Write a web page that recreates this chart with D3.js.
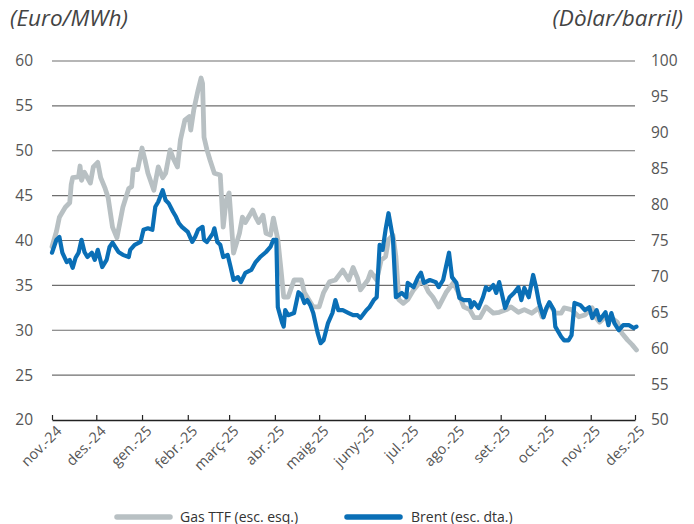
<!DOCTYPE html>
<html><head><meta charset="utf-8">
<script src="https://cdn.jsdelivr.net/npm/d3@7"></script>
<style>body{margin:0;background:#fff}svg{display:block}</style>
</head><body>
<svg id="c" width="694" height="524"></svg>
<script>
const monthLabels = ["nov.-24","des.-24","gen.-25","febr.-25","març-25","abr.-25","maig-25","juny-25","jul.-25","ago.-25","set.-25","oct.-25","nov.-25","des.-25"];
const leftTicks = [20,25,30,35,40,45,50,55,60];
const rightTicks = [50,55,60,65,70,75,80,85,90,95,100];
const seriesNames = ["Gas TTF (esc. esq.)","Brent (esc. dta.)"];

const gasTTF = [
["2024-11-01",39.3],["2024-11-04",41.0],["2024-11-06",42.6],["2024-11-10",43.7],["2024-11-13",44.2],["2024-11-14",46.2],["2024-11-15",47.0],["2024-11-19",47.1],["2024-11-20",48.3],["2024-11-21",46.7],["2024-11-23",47.6],["2024-11-27",46.4],["2024-11-29",48.2],
["2024-12-02",48.7],["2024-12-04",47.0],["2024-12-07",45.8],["2024-12-09",44.8],["2024-12-12",41.5],["2024-12-15",40.3],["2024-12-17",42.0],["2024-12-19",43.7],["2024-12-23",45.8],["2024-12-25",46.0],["2024-12-26",47.9],["2024-12-29",47.9],
["2025-01-01",50.3],["2025-01-03",49.0],["2025-01-05",47.5],["2025-01-09",45.6],["2025-01-12",48.2],["2025-01-15",47.0],["2025-01-17",47.5],["2025-01-20",50.1],["2025-01-22",49.2],["2025-01-25",48.2],["2025-01-27",51.2],["2025-01-30",53.4],
["2025-02-02",53.8],["2025-02-03",52.3],["2025-02-05",54.5],["2025-02-08",56.8],["2025-02-10",58.1],["2025-02-11",57.5],["2025-02-12",51.5],["2025-02-14",50.1],["2025-02-16",49.0],["2025-02-19",47.5],["2025-02-23",47.3],["2025-02-25",41.5],["2025-02-27",44.5],
["2025-03-01",45.3],["2025-03-04",38.6],["2025-03-08",40.8],["2025-03-10",42.6],["2025-03-12",42.0],["2025-03-17",43.4],["2025-03-19",42.6],["2025-03-21",42.0],["2025-03-24",42.8],["2025-03-26",40.8],["2025-03-29",40.6],["2025-03-31",42.5],
["2025-04-03",40.1],["2025-04-05",37.0],["2025-04-07",33.7],["2025-04-10",33.7],["2025-04-14",35.6],["2025-04-19",35.6],["2025-04-21",34.2],["2025-04-24",33.4],["2025-04-27",32.6],
["2025-05-01",32.6],["2025-05-04",34.2],["2025-05-08",35.4],["2025-05-12",35.6],["2025-05-17",36.7],["2025-05-21",35.6],["2025-05-24",37.0],["2025-05-27",35.8],["2025-05-29",34.5],
["2025-06-03",35.6],["2025-06-05",36.5],["2025-06-09",35.6],["2025-06-12",37.8],["2025-06-15",38.2],["2025-06-17",40.1],["2025-06-20",40.6],["2025-06-22",38.2],["2025-06-24",33.4],["2025-06-27",33.0],["2025-06-30",33.4],
["2025-07-04",34.5],["2025-07-08",35.3],["2025-07-11",35.3],["2025-07-14",34.3],["2025-07-17",33.7],["2025-07-21",32.6],["2025-07-26",34.2],["2025-07-31",35.3],
["2025-08-03",34.3],["2025-08-07",32.6],["2025-08-11",32.3],["2025-08-14",31.4],["2025-08-18",31.4],["2025-08-22",32.6],["2025-08-27",31.9],["2025-08-31",32.0],
["2025-09-05",32.3],["2025-09-08",32.6],["2025-09-13",32.0],["2025-09-17",32.3],["2025-09-22",31.9],["2025-09-27",32.5],["2025-09-29",31.5],
["2025-10-04",33.0],["2025-10-08",31.9],["2025-10-12",31.9],["2025-10-14",32.5],["2025-10-19",32.3],["2025-10-24",31.5],["2025-10-28",31.7],
["2025-11-02",32.5],["2025-11-04",31.5],["2025-11-07",30.9],["2025-11-11",31.5],["2025-11-15",31.4],["2025-11-19",30.9],["2025-11-22",29.7],["2025-11-26",28.9],["2025-11-29",28.4],["2025-12-02",27.8]
];

const brent = [
["2024-11-01",73.3],["2024-11-04",75.1],["2024-11-06",75.5],["2024-11-08",73.3],["2024-11-11",72.0],["2024-11-13",72.3],["2024-11-15",71.2],["2024-11-17",72.6],["2024-11-19",73.3],["2024-11-21",75.1],["2024-11-23",73.4],["2024-11-25",72.7],["2024-11-28",73.3],["2024-11-30",72.3],
["2024-12-02",73.7],["2024-12-05",71.3],["2024-12-08",72.3],["2024-12-10",74.1],["2024-12-12",74.7],["2024-12-16",73.4],["2024-12-19",73.0],["2024-12-23",72.7],["2024-12-24",73.7],["2024-12-27",74.4],["2024-12-31",74.8],
["2025-01-02",76.5],["2025-01-05",76.7],["2025-01-08",76.5],["2025-01-10",79.7],["2025-01-12",80.4],["2025-01-15",82.0],["2025-01-17",80.6],["2025-01-19",80.2],["2025-01-22",79.0],["2025-01-24",78.3],["2025-01-26",77.4],["2025-01-28",76.9],
["2025-02-01",76.2],["2025-02-04",74.8],["2025-02-06",75.5],["2025-02-08",76.5],["2025-02-11",76.9],["2025-02-12",75.1],["2025-02-14",74.8],["2025-02-18",76.0],["2025-02-19",76.7],["2025-02-21",74.8],["2025-02-23",74.4],["2025-02-25",72.7],["2025-02-28",73.0],
["2025-03-02",71.3],["2025-03-04",69.5],["2025-03-07",69.9],["2025-03-09",69.2],["2025-03-12",70.5],["2025-03-16",70.9],["2025-03-19",72.0],["2025-03-22",72.7],["2025-03-26",73.4],["2025-03-29",74.1],["2025-03-31",75.1],
["2025-04-02",75.1],["2025-04-03",65.7],["2025-04-06",63.5],["2025-04-07",63.0],["2025-04-08",65.3],["2025-04-10",64.6],["2025-04-14",64.9],["2025-04-17",67.8],["2025-04-19",67.4],["2025-04-21",66.3],["2025-04-23",66.7],["2025-04-25",66.0],["2025-04-27",64.9],["2025-04-30",62.1],
["2025-05-02",60.7],["2025-05-04",61.1],["2025-05-07",63.5],["2025-05-10",64.9],["2025-05-12",66.7],["2025-05-14",65.3],["2025-05-17",65.3],["2025-05-21",64.9],["2025-05-24",64.6],["2025-05-27",64.6],["2025-05-29",64.2],
["2025-06-02",65.3],["2025-06-04",65.7],["2025-06-07",66.7],["2025-06-09",67.1],["2025-06-11",74.4],["2025-06-13",73.7],["2025-06-15",76.5],["2025-06-17",78.8],["2025-06-20",75.3],["2025-06-22",67.1],["2025-06-26",67.7],["2025-06-29",67.1],["2025-06-30",69.1],
["2025-07-04",68.5],["2025-07-07",69.9],["2025-07-09",70.5],["2025-07-11",69.1],["2025-07-15",69.5],["2025-07-19",69.2],["2025-07-21",68.5],["2025-07-24",69.5],["2025-07-28",73.3],["2025-07-30",69.9],
["2025-08-02",69.1],["2025-08-04",67.0],["2025-08-07",66.7],["2025-08-11",66.7],["2025-08-12",65.7],["2025-08-14",66.4],["2025-08-17",65.6],["2025-08-20",67.1],["2025-08-22",68.5],["2025-08-24",68.1],["2025-08-27",68.8],["2025-08-29",67.7],["2025-08-31",69.2],
["2025-09-04",65.6],["2025-09-07",67.1],["2025-09-10",67.7],["2025-09-13",68.5],["2025-09-15",66.7],["2025-09-17",68.4],["2025-09-20",67.1],["2025-09-23",70.2],["2025-09-25",68.5],["2025-09-27",66.3],["2025-09-30",64.3],
["2025-10-02",65.6],["2025-10-04",66.4],["2025-10-07",65.3],["2025-10-08",63.0],["2025-10-12",61.6],["2025-10-14",61.1],["2025-10-17",61.1],["2025-10-19",61.8],["2025-10-21",66.3],["2025-10-25",66.0],["2025-10-28",65.3],["2025-10-31",65.7],
["2025-11-02",64.2],["2025-11-05",65.3],["2025-11-07",63.9],["2025-11-11",65.0],["2025-11-13",63.2],["2025-11-15",64.9],["2025-11-17",63.5],["2025-11-20",62.5],["2025-11-23",63.2],["2025-11-27",63.2],["2025-11-30",62.8],["2025-12-02",63.0]
];

const parse = d3.timeParse("%Y-%m-%d");
const svg = d3.select("#c");
const L = 52, R = 635, T = 61, B = 420;
const FONT = "'Open Sans', 'Noto Sans', sans-serif";

const x = d3.scaleTime().domain([new Date(2024,10,1), new Date(2025,11,1)]).range([L, R]);
const yL = d3.scaleLinear().domain([20,60]).range([B, T]);
const yR = d3.scaleLinear().domain([50,100]).range([B, T]);

// gridlines
svg.append("g").selectAll("line").data(leftTicks.filter(v => v > 20)).join("line")
  .attr("x1", L).attr("x2", R).attr("y1", d => yL(d)).attr("y2", d => yL(d))
  .attr("stroke", "#6e6e6e").attr("stroke-width", 1.2);

// left axis labels
const gL = svg.append("g").attr("transform", `translate(${L},0)`)
  .call(d3.axisLeft(yL).tickValues(leftTicks).tickSize(0).tickPadding(19));
gL.select(".domain").remove();
gL.selectAll("text").attr("font-family", FONT).attr("font-size", 15.5).attr("fill", "#555");

const gR = svg.append("g").attr("transform", `translate(${R},0)`)
  .call(d3.axisRight(yR).tickValues(rightTicks).tickSize(0).tickPadding(16));
gR.select(".domain").remove();
gR.selectAll("text").attr("font-family", FONT).attr("font-size", 15.5).attr("fill", "#555");

// bottom axis
const months = d3.timeMonth.range(new Date(2024,10,1), new Date(2025,11,2));
const gB = svg.append("g").attr("transform", `translate(0,${B})`)
  .call(d3.axisBottom(x).tickValues(months).tickSizeInner(-5).tickSizeOuter(0).tickFormat((d,i) => monthLabels[i]));
gB.select(".domain").attr("stroke", "#222").attr("stroke-width", 1.5);
gB.selectAll(".tick line").attr("stroke", "#222").attr("stroke-width", 1.2);
gB.selectAll("text").attr("font-family", FONT).attr("font-size", 14.5).attr("fill", "#555")
  .attr("text-anchor", "end").attr("dy", 0).attr("y", 0)
  .attr("transform", "translate(10,12) rotate(-45)");

// lines
const lineG = d3.line().x(d => x(parse(d[0]))).y(d => yL(d[1])).curve(d3.curveLinear);
const lineB = d3.line().x(d => x(parse(d[0]))).y(d => yR(d[1])).curve(d3.curveLinear);
svg.append("path").datum(gasTTF).attr("d", lineG).attr("fill", "none")
  .attr("stroke", "#b8c0c3").attr("stroke-width", 4.8).attr("stroke-linejoin", "round").attr("stroke-linecap", "round");
svg.append("path").datum(brent).attr("d", lineB).attr("fill", "none")
  .attr("stroke", "#0a6fb6").attr("stroke-width", 4.2).attr("stroke-linejoin", "round").attr("stroke-linecap", "round");

// axis titles
svg.append("text").attr("x", 10).attr("y", 26).text("(Euro/MWh)")
  .attr("font-family", FONT).attr("font-style", "italic").attr("font-size", 22.5).attr("fill", "#444");
svg.append("text").attr("x", 683).attr("y", 26).attr("text-anchor", "end").text("(Dòlar/barril)")
  .attr("font-family", FONT).attr("font-style", "italic").attr("font-size", 22.5).attr("fill", "#444");

// legend
const leg = [{x1:117, tx:180, c:"#b8c0c3", n:seriesNames[0]}, {x1:347, tx:411, c:"#0a6fb6", n:seriesNames[1]}];
const lg = svg.append("g");
leg.forEach(l => {
  lg.append("line").attr("x1", l.x1).attr("x2", l.x1 + 53).attr("y1", 517).attr("y2", 517)
    .attr("stroke", l.c).attr("stroke-width", 5.5).attr("stroke-linecap", "round");
  lg.append("text").attr("x", l.tx).attr("y", 521.5).text(l.n)
    .attr("font-family", FONT).attr("font-size", 14).attr("fill", "#333");
});
</script>
</body></html>
